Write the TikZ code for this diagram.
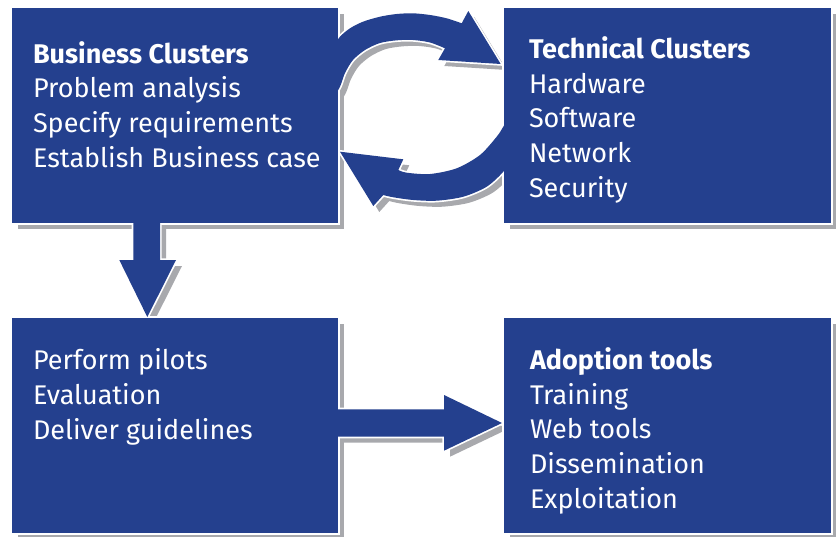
\documentclass[tikz,border=0pt]{standalone}
\usepackage{fontspec}
\setmainfont{Fira Sans}
\definecolor{boxblue}{HTML}{24408E}
\definecolor{shadowgray}{HTML}{A8A9AD}

% outlines of the block arrows, in pixel-like units (y grows downwards)
\newcommand\RingUpper{plot[smooth,tension=0.5] coordinates {(332,48) (340,36.7) (350,28.3) (363,21.7) (380,16.7) (396.7,14) (413,13.3) (430,15) (446.7,18.3) (461.7,23.3)}
  -- (468.3,11) -- (500.7,64) -- (438.3,60) -- (445,48.3)
  -- plot[smooth,tension=0.5] coordinates {(445,48.3) (430,42.5) (413,40) (397,40.3) (380,43) (365,50) (353,60) (345,73) (340,86.7) (332,100)} -- cycle}
\newcommand\RingLower{plot[smooth,tension=0.5] coordinates {(512,158) (503.3,171.7) (486.7,186.7) (463.3,196.7) (436.7,200.7) (413.3,200) (393.3,197.3) (383.3,195)}
  -- (373.3,206) -- (340,151.7) -- (403.3,159.3) -- (398.3,170)
  -- plot[smooth,tension=0.5] coordinates {(398.3,170) (406.7,172.7) (430,174) (456.7,168.3) (480,155) (496.7,136.7) (503.3,126.7) (512,112)} -- cycle}
\newcommand\ArrowDown{(133.3,215) -- (133.3,260) -- (119.3,260) -- (147.3,317) -- (176,260) -- (160,260) -- (160,215) -- cycle}
\newcommand\ArrowRight{(330,409.3) -- (444,409.3) -- (444,395) -- (502,423) -- (444,450.7) -- (444,436.7) -- (330,436.7) -- cycle}

\begin{document}
\begin{tikzpicture}[x=1pt,y=-1pt,
  holder/.style={rectangle,inner sep=0pt,outer sep=0pt,minimum width=326pt,minimum height=215pt,anchor=north west},
  shadowfill/.style={fill=shadowgray},
  rim/.style={draw=white,line width=3.4pt,line join=miter},
  bluefill/.style={fill=boxblue},
  txt/.style={text=white,font=\fontsize{27}{34.6}\selectfont,align=left,inner sep=0pt,outer sep=0pt,anchor=base west}]
\useasboundingbox (0,0) rectangle (836,536);

% box placeholders
\path node[holder] (b1) at (12,8) {}
      node[holder,minimum width=327pt] (b2) at (504,8) {}
      node[holder] (b3) at (12,318) {}
      node[holder,minimum width=327pt] (b4) at (504,318) {};

% drop shadows
\foreach \b in {b1,b2,b3,b4}
  \fill[shadowfill] ([xshift=6pt,yshift=-6pt]\b.north west) rectangle ([xshift=6pt,yshift=-6pt]\b.south east);
\begin{scope}[shift={(6,6)}]
  \fill[shadowfill] \RingUpper;
  \fill[shadowfill] \RingLower;
  \fill[shadowfill] \ArrowDown;
  \fill[shadowfill] \ArrowRight;
\end{scope}

% white rims
\foreach \b in {b1,b2,b3,b4}
  \draw[rim] (\b.north west) rectangle (\b.south east);
\draw[rim] \RingUpper;
\draw[rim] \RingLower;
\draw[rim] \ArrowDown;
\draw[rim] \ArrowRight;

% blue faces
\foreach \b in {b1,b2,b3,b4}
  \fill[bluefill] (\b.north west) rectangle (\b.south east);
\fill[bluefill] \RingUpper;
\fill[bluefill] \RingLower;
\fill[bluefill] \ArrowDown;
\fill[bluefill] \ArrowRight;

% texts (anchored at the baseline of their last line)
\node[txt] (t1) at (33,167) {\textbf{Business Clusters}\\Problem analysis\\Specify requirements\\Establish Business case};
\node[txt] (t2) at (529,197) {\textbf{Technical Clusters}\\Hardware\\Software\\Network\\Security};
\node[txt] (t3) at (33,439) {Perform pilots\\Evaluation\\Deliver guidelines};
\node[txt] (t4) at (530,508) {\textbf{Adoption tools}\\Training\\Web tools\\Dissemination\\Exploitation};
\end{tikzpicture}
\end{document}
